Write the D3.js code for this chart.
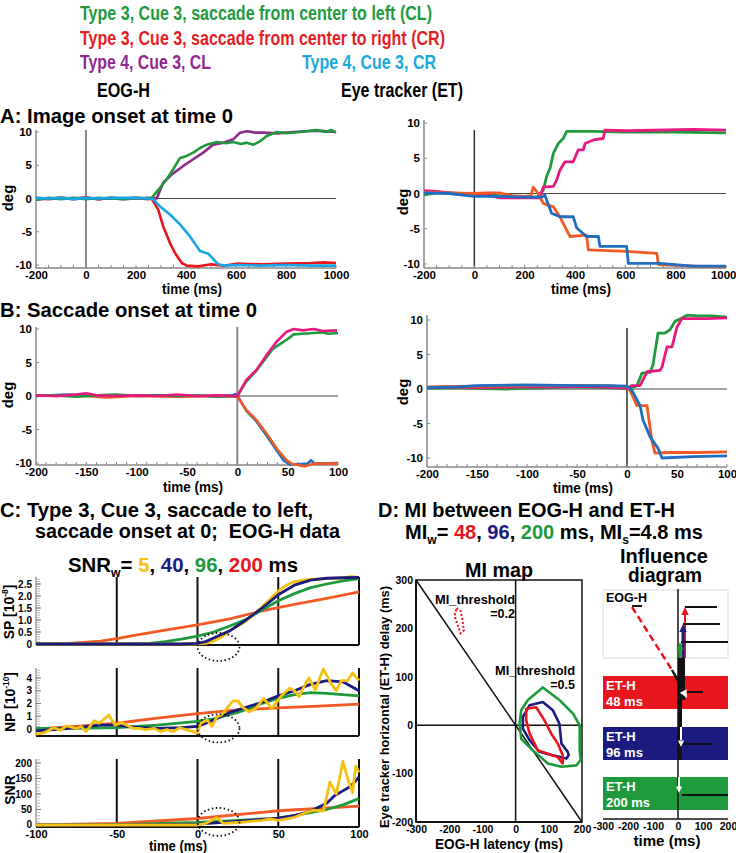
<!DOCTYPE html>
<html><head><meta charset="utf-8">
<script src="https://cdn.jsdelivr.net/npm/d3@7/dist/d3.min.js"></script>
<style>
body{margin:0;background:#fff;}
svg text{font-family:"Liberation Sans",Arial,Helvetica,sans-serif;font-weight:bold;white-space:pre;}
</style></head><body>
<svg id="chart" width="736" height="853"></svg>
<script>
// ================= DATA =================
const timeTicksA = [-200,0,200,400,600,800,1000];
const timeTicksB = [-200,-150,-100,-50,0,50,100];
const degTicks = [-10,-5,0,5,10];
const timeTicksC = [-100,-50,0,50,100];
const spTicks = [0,0.5,1.0,1.5,2.0,2.5];
const npTicks = [0,1,2,3,4];
const snrTicks = [0,50,100,150,200];
const miTicksX = [-300,-200,-100,0,100,200];
const miTicksY = [-200,-100,0,100,200,300];
const infTicks = [-300,-200,-100,0,100,200];

// A: EOG-H, image onset at 0  [time ms, deg]
const eogA_CL3 = [[-200,-0.2],[-150,0.1],[-100,-0.1],[-50,0.1],[0,-0.1],[50,0.1],[100,0.0],[150,-0.1],[200,0.1],[250,0],[263,0.1],[296,1.6],[323,2.9],[349,4.4],[376,6.1],[403,6.4],[429,6.9],[456,7.6],[483,8.1],[523,8.5],[560,8.3],[589,8.5],[620,8.2],[643,8.4],[670,8.1],[696,8.6],[723,9.4],[763,10.0],[800,9.8],[856,10.0],[900,10.2],[923,10.3],[960,10.0],[980,10.3],[1000,9.9]];
const eogA_CL4 = [[-200,-0.2],[-150,0],[-100,0.1],[-50,-0.1],[0,0.1],[50,-0.1],[100,0.1],[150,-0.1],[200,0],[250,0.1],[283,0],[309,2.4],[343,3.6],[389,4.9],[429,5.9],[469,6.9],[509,8.1],[549,8.4],[589,8.9],[616,9.9],[643,10.1],[680,9.9],[709,9.9],[763,9.8],[830,10.0],[923,10.2],[1000,10.0]];
const eogA_CR3 = [[-200,0.1],[-150,-0.1],[-100,0.1],[-50,0],[0,0.2],[50,-0.1],[100,0.1],[150,0],[200,0.1],[250,-0.1],[263,0],[289,-1.7],[309,-4.2],[336,-6.7],[356,-8.2],[383,-9.7],[403,-10.1],[450,-10.2],[500,-9.9],[550,-10.1],[600,-9.8],[700,-9.9],[800,-9.8],[900,-9.7],[950,-9.6],[1000,-9.7]];
const eogA_CR4 = [[-200,0.1],[-150,0],[-100,0.1],[-50,-0.1],[0,0.1],[50,0],[100,0.1],[150,0.1],[200,0.1],[250,0],[269,-0.1],[296,-1.2],[336,-2.4],[376,-3.9],[416,-5.7],[456,-7.9],[489,-8.3],[509,-9.1],[529,-9.9],[560,-10.1],[600,-10.0],[700,-10.1],[800,-10.0],[900,-10.1],[1000,-10.1]];

// A: Eye tracker
const etA_CL3 = [[-200,-0.2],[-150,0.1],[-100,0.1],[-50,0],[0,-0.2],[50,-0.1],[100,-0.3],[150,-0.4],[200,-0.5],[250,-0.5],[274,0.5],[287,2.4],[301,3.6],[314,5.7],[334,7.1],[353,7.8],[367,8.8],[473,8.8],[600,8.7],[800,8.7],[1000,8.6]];
const etA_CL4 = [[-200,0.4],[-150,0.3],[-100,0.1],[-50,-0.1],[0,-0.2],[50,-0.2],[100,-0.6],[150,-0.6],[200,-0.6],[260,-0.6],[274,0.9],[314,1.0],[327,1.9],[340,3.3],[360,4.5],[393,4.5],[413,6.2],[433,6.2],[440,7.1],[473,7.6],[512,7.8],[519,9.0],[605,8.9],[870,9.1],[1000,9.0]];
const etA_CR3 = [[-200,0.2],[-100,0.1],[0,0],[50,0.1],[100,0.1],[150,-0.3],[200,-0.4],[225,-0.3],[234,0.9],[254,0],[274,-1.4],[314,-1.9],[340,-3.3],[380,-6.1],[446,-5.9],[453,-8.0],[605,-8.2],[725,-8.5],[732,-10.1],[870,-10.3],[1000,-10.4]];
const etA_CR4 = [[-200,0.1],[-100,0],[0,-0.4],[100,-0.4],[200,-0.5],[270,-0.5],[280,-0.2],[307,-2.8],[340,-3.3],[393,-3.3],[407,-4.9],[446,-6.1],[493,-6.1],[499,-7.5],[605,-7.5],[612,-9.9],[738,-9.9],[870,-10.3],[1000,-10.3]];

// B: EOG-H, saccade onset at 0
const eogB_CL3 = [[-200,0.1],[-180,0.1],[-160,-0.1],[-140,0.1],[-120,0.2],[-100,0],[-80,0.1],[-60,0],[-40,0.1],[-20,-0.1],[0,0],[9,2.2],[19,3.8],[29,5.8],[35,7.0],[39,7.4],[45,8.0],[49,8.4],[56,9.2],[65,9.3],[76,9.4],[85,9.5],[90,9.3],[100,9.4]];
const eogB_CL4 = [[-200,0.1],[-180,0],[-160,0.2],[-150,0.4],[-140,0.1],[-120,0],[-100,0.1],[-80,0],[-60,0.2],[-40,0],[-20,0.1],[0,0],[9,2.4],[19,3.9],[29,6.1],[39,8.1],[49,9.6],[56,10.0],[65,9.8],[76,10.0],[85,9.7],[99,9.8]];
const eogB_CR3 = [[-200,0.1],[-180,0],[-160,0.1],[-140,-0.1],[-130,-0.2],[-100,0],[-60,-0.1],[-20,0],[0,-0.1],[9,-2.1],[19,-3.6],[29,-5.6],[39,-7.8],[49,-9.6],[54,-10.1],[60,-10.3],[67,-10.5],[76,-10.1],[85,-10.1],[100,-10.1]];
const eogB_CR4 = [[-200,0],[-170,0.2],[-150,0.1],[-120,0.1],[-90,0.1],[-60,0],[-30,0],[-5,0.1],[-2,0.3],[0,0.1],[9,-2.2],[19,-3.8],[29,-5.9],[39,-8.1],[46,-9.6],[52,-10.2],[60,-10.2],[70,-10.1],[73,-9.6],[77,-10.1],[100,-10.0]];

// B: Eye tracker
const etB_CL3 = [[-200,0.1],[-170,0.2],[-150,0.1],[-120,0.0],[-100,0.1],[-75,0.2],[-50,0.3],[-25,0.2],[0,0.1],[7,0.3],[10,0.5],[15,2.3],[23,2.4],[26,3.5],[31,8.1],[38,8.1],[43,8.6],[48,9.8],[55,10.3],[60,10.7],[70,10.6],[85,10.6],[100,10.4]];
const etB_CL4 = [[-200,0.2],[-180,0.3],[-150,0.2],[-100,0.3],[-75,0.3],[-50,0.4],[-25,0.3],[0,0.1],[5,0.5],[13,0.5],[20,2.5],[33,2.7],[35,3.2],[40,6.1],[45,6.1],[50,9.0],[55,10.2],[66,10.2],[80,10.2],[100,10.3]];
const etB_CR3 = [[-200,0.3],[-150,0.4],[-100,0.5],[-50,0.5],[-20,0.5],[0,0.3],[3,-0.2],[10,-2.4],[20,-2.4],[25,-7.6],[28,-9.3],[40,-9.2],[70,-9.2],[100,-9.1]];
const etB_CR4 = [[-200,0.2],[-170,0.3],[-150,0.5],[-100,0.6],[-50,0.5],[-20,0.5],[0,0.4],[5,-0.2],[13,-2.4],[16,-4.5],[23,-6.9],[31,-8.6],[35,-10.0],[66,-9.8],[100,-9.7]];

// C: SP [1e-8], NP [1e-10], SNR for windows 5, 40, 96, 200 ms
const sp_w5   = [[-100,0],[0,0],[5,0.03],[10,0.12],[15,0.3],[20,0.55],[30,0.95],[40,1.55],[50,2.2],[55,2.45],[60,2.6],[70,2.7],[80,2.72],[90,2.75],[95,2.82],[100,2.78]];
const sp_w40  = [[-100,0],[-10,0],[0,0.03],[5,0.1],[10,0.25],[20,0.55],[30,1.0],[40,1.5],[50,2.05],[60,2.45],[70,2.66],[80,2.74],[90,2.76],[100,2.77]];
const sp_w96  = [[-100,0],[-50,0],[-30,0.03],[-20,0.1],[-10,0.2],[0,0.33],[10,0.5],[20,0.75],[30,1.02],[40,1.42],[50,1.8],[60,2.1],[70,2.35],[80,2.5],[90,2.63],[100,2.72]];
const sp_w200 = [[-100,0],[-80,0.02],[-60,0.12],[-50,0.22],[-40,0.35],[-20,0.58],[0,0.8],[20,1.05],[40,1.38],[60,1.65],[80,1.9],[100,2.17]];

const np_w5   = [[-100,-0.4],[-95,-0.3],[-89,0.1],[-85,-0.1],[-81,0.25],[-75,0.05],[-72,0.2],[-69,-0.2],[-64,0.65],[-61,0.45],[-57,0.85],[-55,1.1],[-51,0.3],[-47,0.5],[-43,0.25],[-40,0.05],[-36,0.05],[-32,-0.05],[-27,0.05],[-23,-0.2],[-19,-0.05],[-15,-0.2],[-11,0.1],[-7,-0.05],[0,-0.3],[2,0.45],[6,0.7],[9,0.2],[12,0.95],[15,1.1],[18,1.6],[22,2.2],[25,2.2],[28,1.7],[32,1.35],[36,1.6],[41,2.4],[46,1.6],[52,2.6],[57,3.2],[60,3.0],[63,2.55],[66,3.35],[69,4.0],[73,3.05],[76,4.1],[78,4.7],[83,3.5],[86,3.0],[89,3.8],[93,3.8],[96,4.4],[100,3.8]];
const np_w40  = [[-100,-0.15],[-85,0.0],[-75,0.1],[-60,0.3],[-50,0.3],[-40,0.15],[-25,0.05],[-10,0.1],[0,0.2],[10,0.7],[20,1.3],[30,1.7],[40,2.1],[50,2.6],[60,3.0],[70,3.5],[80,3.8],[90,3.7],[100,3.0]];
const np_w96  = [[-100,0.05],[-75,0.05],[-50,0.1],[-25,0.3],[0,0.6],[10,0.8],[25,1.3],[40,2.0],[50,2.4],[60,2.7],[70,2.85],[80,2.8],[90,2.7],[100,2.6]];
const np_w200 = [[-100,0.0],[-75,0.2],[-50,0.45],[-25,0.85],[0,1.2],[25,1.5],[50,1.65],[75,1.8],[100,1.95]];

const snr_w5   = [[-100,0],[-50,0],[0,0],[5,5],[12,24],[16,5],[25,8],[40,15],[45,20],[50,15],[55,20],[60,25],[67,40],[72,48],[78,45],[82,138],[86,100],[90,205],[93,150],[96,105],[98,190],[100,170]];
const snr_w40  = [[-100,0],[-50,0],[0,3],[25,12],[50,22],[60,30],[70,45],[80,70],[85,95],[90,110],[95,125],[100,155]];
const snr_w96  = [[-100,0],[-50,1],[0,8],[25,15],[50,22],[70,40],[80,50],[90,65],[100,85]];
const snr_w200 = [[-100,0],[-50,5],[0,21],[50,46],[100,61]];
const circleSP = [13,-0.12], circleNP = [13,0.05], circleSNR = [13,10];

// D: MI map contours [EOG-H latency ms, ET-H delay ms]
const mi_w200 = [[17,31],[37,52],[82,78],[132,52],[173,24],[193,0],[193,-52],[196,-72],[183,-83],[138,-86],[97,-79],[52,-52],[17,-28],[12,3]];
const mi_w96  = [[22,17],[42,41],[82,48],[112,31],[132,3],[138,-38],[157,-55],[160,-62],[153,-69],[112,-62],[72,-55],[42,-31],[22,-7]];
const mi_w48  = [[32,34],[62,37],[87,10],[107,-17],[127,-38],[142,-62],[142,-79],[127,-66],[97,-59],[67,-52],[42,-17],[32,10]];
const mi_w48_low = [[-178,242],[-166,236],[-160,218],[-156,196],[-166,190],[-174,206],[-184,226]];

// D: influence diagram [ms]
const infWindows = ["48 ms","96 ms","200 ms"];
const infArrowT  = [28, 20, 8];
const infTopStart = [28, 20, 12], infTopEnd = [156, 168, 200];
const infBandStart = [36, 16, 16], infBandEnd = [100, 136, 200];
const infEogStart = -184, infEogJoin = -24, infEogEnd = 36;

// ================= DRAWING =================
const COL = {green:"#1e9a3c", red:"#e8151d", purple:"#8e2a8c", cyan:"#19a6e6", magenta:"#e8197e", orange:"#f15a24", blue:"#1f6ec0", yellow:"#f5c10e", navy:"#1b1b80"};
const svg = d3.select("#chart");

function label(x,y,str,o={}){
  const size=o.size||14;
  const t=svg.append("text").attr("x",x).attr("y",y).attr("font-size",size).attr("fill",o.fill||"#000").attr("text-anchor",o.anchor||"start");
  if(o.rot) t.attr("transform",`rotate(-90,${x},${y})`);
  if(Array.isArray(str)){
    let shift=0;
    str.forEach(s=>{
      const ts=t.append("tspan").text(s.t).attr("fill",s.fill||o.fill||"#000");
      let target = s.sub? size*0.25 : s.sup ? -size*0.4 : 0;
      if(target!==shift){ ts.attr("dy",target-shift); shift=target; }
      if(s.sub||s.sup) ts.attr("font-size",size*0.6);
    });
  } else t.text(str);
  if(o.len) t.attr("textLength",o.len).attr("lengthAdjust","spacingAndGlyphs");
  return t;
}
function ln(g,x1,y1,x2,y2,c,w,dash){
  const l=g.append("line").attr("x1",x1).attr("y1",y1).attr("x2",x2).attr("y2",y2).attr("stroke",c).attr("stroke-width",w);
  if(dash) l.attr("stroke-dasharray",dash);
  return l;
}

// titles
label(80,20,"Type 3, Cue 3, saccade from center to left (CL)",{size:19.5,fill:"#1f9a3f",len:352});
label(80,45,"Type 3, Cue 3, saccade from center to right (CR)",{size:19.5,fill:"#e41e26",len:365});
label(80,69,"Type 4, Cue 3, CL",{size:19.5,fill:"#92278f",len:131});
label(302,69,"Type 4, Cue 3, CR",{size:19.5,fill:"#1ba8e0",len:134});
label(97,97,"EOG-H",{size:19.5,len:53});
label(341,97,"Eye tracker (ET)",{size:19.5,len:122});
label(0,123,"A: Image onset at time 0",{size:20,len:233});
label(0,317,"B: Saccade onset at time 0",{size:20,len:257});

// time series panels
function tsPanel(p){
  const x=d3.scaleLinear().domain(p.xd).range(p.xr);
  const y=d3.scaleLinear().domain([-10,10]).range(p.yr);
  const g=svg.append("g");
  ln(g,p.xr[0],y(0),p.xr[1],y(0),"#444",1.2);
  ln(g,x(0),p.vTop,x(0),p.axBottom,p.vColor,p.vW);
  ln(g,p.xr[0],p.axTop,p.xr[0],p.axBottom,"#888",1.5);
  ln(g,p.xr[0],p.axBottom,p.xr[1],p.axBottom,"#888",1.5);
  d3.range(p.xd[0],p.xd[1]+0.1,p.minor).forEach(t=>ln(g,x(t),p.axBottom,x(t),p.axBottom-3,"#888",1));
  degTicks.forEach(v=>ln(g,p.xr[0],y(v),p.xr[0]+3,y(v),"#888",1));
  const xa=g.append("g").attr("transform",`translate(0,${p.axBottom})`)
    .call(d3.axisBottom(x).tickValues(p.xt).tickSize(0).tickPadding(3).tickFormat(d=>String(d)));
  xa.select(".domain").remove(); xa.attr("font-size",11.5);
  if(p.lastEnd) xa.selectAll(".tick:last-of-type text").attr("text-anchor","end").attr("x",10);
  const ya=g.append("g").attr("transform",`translate(${p.xr[0]},0)`)
    .call(d3.axisLeft(y).tickValues(degTicks).tickSize(0).tickPadding(4).tickFormat(d=>String(d)));
  ya.select(".domain").remove(); ya.attr("font-size",11.5);
  const line=d3.line().x(d=>x(d[0])).y(d=>y(d[1]));
  p.series.forEach(s=>g.append("path").attr("d",line(s.d)).attr("fill","none").attr("stroke",s.c).attr("stroke-width",p.lw||2.6).attr("stroke-linejoin","round"));
  label(p.tx,p.ty,"time (ms)",{size:14,anchor:"middle",len:60});
  label(p.dx,p.dy,"deg",{size:15,anchor:"middle",rot:true});
}
tsPanel({xd:[-200,1000],xr:[36,336],yr:[265,132],axTop:130,axBottom:268,vTop:130,vColor:"#888",vW:2,minor:50,xt:timeTicksA,
  series:[{d:eogA_CR3,c:COL.red},{d:eogA_CL4,c:COL.purple},{d:eogA_CL3,c:COL.green},{d:eogA_CR4,c:COL.cyan}],tx:192,ty:294,dx:13,dy:198});
tsPanel({xd:[-200,1000],xr:[424,726],yr:[264,123],axTop:120,axBottom:268,vTop:130,vColor:"#333",vW:1.5,minor:50,xt:timeTicksA,lw:2.8,lastEnd:true,
  series:[{d:etA_CL3,c:COL.green},{d:etA_CL4,c:COL.magenta},{d:etA_CR3,c:COL.orange},{d:etA_CR4,c:COL.blue}],tx:581,ty:294,dx:408,dy:202});
tsPanel({xd:[-200,100],xr:[36,338],yr:[463,329],axTop:327,axBottom:465,vTop:327,vColor:"#888",vW:2,minor:10,xt:timeTicksB,
  series:[{d:eogB_CR4,c:COL.blue},{d:eogB_CR3,c:COL.orange},{d:eogB_CL3,c:COL.green},{d:eogB_CL4,c:COL.magenta}],tx:193,ty:492,dx:13,dy:395});
tsPanel({xd:[-200,100],xr:[427,727],yr:[458,320],axTop:315,axBottom:467,vTop:328,vColor:"#333",vW:1.5,minor:10,xt:timeTicksB,lw:2.8,
  series:[{d:etB_CL3,c:COL.green},{d:etB_CL4,c:COL.magenta},{d:etB_CR3,c:COL.orange},{d:etB_CR4,c:COL.blue}],tx:583,ty:493,dx:408,dy:392});

// ---- Panel C ----
label(0,517,"C: Type 3, Cue 3, saccade to left,",{size:20,len:313});
label(35,538,"saccade onset at 0;  EOG-H data",{size:20,len:305});
label(68,572,[{t:"SNR"},{t:"w",sub:true},{t:"= "},{t:"5",fill:COL.yellow},{t:", "},{t:"40",fill:COL.navy},{t:", "},{t:"96",fill:COL.green},{t:", "},{t:"200",fill:COL.red},{t:" ms"}],{size:20,len:230});
const xc=d3.scaleLinear().domain([-100,100]).range([36,359]);
function cPanel(p){
  const y=d3.scaleLinear().domain(p.yd).range(p.yr);
  const g=svg.append("g");
  ln(g,36,p.top,36,p.bottom,"#999",1.5);
  d3.range(p.minorFrom,y.invert(p.top)+1e-9,p.minor).forEach(v=>ln(g,36,y(v),40,y(v),"#bbb",1));
  p.ticks.forEach(v=>ln(g,36,y(v),41,y(v),"#777",1));
  timeTicksC.slice(1).forEach(t=>ln(g,xc(t),p.top,xc(t),p.bottom,"#111",2));
  ln(g,36,p.bottom,359,p.bottom,"#111",2);
  const ya=g.append("g").attr("transform","translate(34,0)")
    .call(d3.axisLeft(y).tickValues(p.ticks).tickSize(0).tickPadding(2).tickFormat(p.fmt));
  ya.select(".domain").remove(); ya.attr("font-size",10);
  if(p.xaxis) ya.selectAll(".tick:first-of-type text").attr("dy","0.2em");
  const line=d3.line().x(d=>xc(d[0])).y(d=>y(d[1]));
  p.series.forEach(s=>g.append("path").attr("d",line(s.d)).attr("fill","none").attr("stroke",s.c).attr("stroke-width",2.8).attr("stroke-linejoin","round"));
  g.append("ellipse").attr("cx",xc(p.circ[0])).attr("cy",y(p.circ[1])).attr("rx",21).attr("ry",14)
    .attr("fill","none").attr("stroke","#111").attr("stroke-width",1.8).attr("stroke-dasharray","1.5,2.5");
  if(p.xaxis){
    const xa=g.append("g").attr("transform",`translate(0,${p.bottom})`)
      .call(d3.axisBottom(xc).tickValues(timeTicksC).tickSize(0).tickPadding(3).tickFormat(d=>String(d)));
    xa.select(".domain").remove(); xa.attr("font-size",11);
  }
  label(p.lx,p.ly,p.lab,{size:14,anchor:"middle",rot:true});
}
cPanel({yd:[0,2.5],yr:[644,584],top:577,bottom:645,minor:0.1,minorFrom:0,ticks:spTicks,fmt:d=>d===0?"0":d.toFixed(1),
  series:[{d:sp_w200,c:COL.orange},{d:sp_w96,c:COL.green},{d:sp_w5,c:COL.yellow},{d:sp_w40,c:COL.navy}],circ:circleSP,
  lx:14,ly:612,lab:[{t:"SP [10"},{t:"-8",sup:true},{t:"]"}]});
cPanel({yd:[0,4],yr:[729,678],top:668,bottom:736,minor:0.2,minorFrom:-0.4,ticks:npTicks,fmt:d=>String(d),
  series:[{d:np_w200,c:COL.orange},{d:np_w96,c:COL.green},{d:np_w40,c:COL.navy},{d:np_w5,c:COL.yellow}],circ:circleNP,
  lx:15,ly:702,lab:[{t:"NP [10"},{t:"-10",sup:true},{t:"]"}]});
cPanel({yd:[0,200],yr:[825,763],top:759,bottom:827,minor:10,minorFrom:0,ticks:snrTicks,fmt:d=>String(d),
  series:[{d:snr_w200,c:COL.orange},{d:snr_w96,c:COL.green},{d:snr_w40,c:COL.navy},{d:snr_w5,c:COL.yellow}],circ:circleSNR,
  lx:15,ly:790,lab:"SNR",xaxis:true});
label(178,851,"time (ms)",{size:14,anchor:"middle",len:58});

// ---- Panel D ----
label(378,517,"D: MI between EOG-H and ET-H",{size:20,len:297});
label(405,539,[{t:"MI"},{t:"w",sub:true},{t:"= "},{t:"48",fill:COL.red},{t:", "},{t:"96",fill:COL.navy},{t:", "},{t:"200",fill:COL.green},{t:" ms, MI"},{t:"s",sub:true},{t:"=4.8 ms"}],{size:20,len:298});
label(499,577,"MI map",{size:20,anchor:"middle",len:68});
label(664,563,"Influence",{size:20,anchor:"middle",len:88});
label(665,582,"diagram",{size:20,anchor:"middle",len:74});

const xm=d3.scaleLinear().domain([-300,200]).range([416,582]);
const ym=d3.scaleLinear().domain([-200,300]).range([822,580]);
{
  const g=svg.append("g");
  g.append("rect").attr("x",xm(-300)).attr("y",ym(300)).attr("width",xm(200)-xm(-300)).attr("height",ym(-200)-ym(300)).attr("fill","none").attr("stroke","#111").attr("stroke-width",1.5);
  ln(g,xm(-300),ym(300),xm(-300),ym(-200),"#111",2);
  ln(g,xm(-300),ym(-200),xm(200),ym(-200),"#111",2);
  ln(g,xm(0),ym(300),xm(0),ym(-200),"#111",1.5);
  ln(g,xm(-300),ym(0),xm(200),ym(0),"#111",1.5);
  ln(g,xm(-300),ym(300),xm(200),ym(-200),"#111",1.5);
  const ya=g.append("g").attr("transform",`translate(${xm(-300)-1},0)`)
    .call(d3.axisLeft(ym).tickValues(miTicksY).tickSize(0).tickPadding(2).tickFormat(d=>String(d)));
  ya.select(".domain").remove(); ya.attr("font-size",10.5);
  const xa=g.append("g").attr("transform",`translate(0,${ym(-200)+1})`)
    .call(d3.axisBottom(xm).tickValues(miTicksX).tickSize(0).tickPadding(3).tickFormat(d=>String(d)));
  xa.select(".domain").remove(); xa.attr("font-size",10.5);
  const cl=d3.line().x(d=>xm(d[0])).y(d=>ym(d[1])).curve(d3.curveLinearClosed);
  [[mi_w200,COL.green],[mi_w96,COL.navy],[mi_w48,COL.red]].forEach(([d,c])=>
    g.append("path").attr("d",cl(d)).attr("fill","none").attr("stroke",c).attr("stroke-width",2.6).attr("stroke-linejoin","round"));
  g.append("path").attr("d",cl(mi_w48_low)).attr("fill","none").attr("stroke",COL.red).attr("stroke-width",2).attr("stroke-dasharray","2,2");
  label(435,604,"MI_threshold",{size:12.5,len:80});
  label(515,618,"=0.2",{size:12.5,anchor:"end"});
  label(495,675,"MI_threshold",{size:12.5,len:80});
  label(575,689,"=0.5",{size:12.5,anchor:"end"});
  label(389,707,"Eye tracker horizontal (ET-H) delay (ms)",{size:13,anchor:"middle",rot:true,len:242});
  label(499,849,"EOG-H latency (ms)",{size:15,anchor:"middle",len:128});
}

// influence diagram
const xi=d3.scaleLinear().domain([-300,200]).range([603,728]);
{
  const g=svg.append("g");
  const bandCol=[COL.red,COL.navy,COL.green];
  const bandTop=[676,727,777], bandH=33;
  g.append("rect").attr("x",xi(-300)).attr("y",590).attr("width",xi(200)-xi(-300)).attr("height",68).attr("fill","#fff").attr("stroke","#ddd").attr("stroke-width",1);
  infWindows.forEach((w,i)=>{
    g.append("rect").attr("x",xi(-300)).attr("y",bandTop[i]).attr("width",xi(200)-xi(-300)).attr("height",bandH).attr("fill",bandCol[i]);
  });
  ln(g,xi(0),589,xi(0),819,"#111",1.5);
  ln(g,xi(14),658,xi(14),700,"#111",7);
  ln(g,xi(8),700,xi(8),760,"#111",4);
  function arrowHead(x,y,ang,c,s){
    const p=[[0,0],[-s*1.6,-s*0.75],[-s*1.6,s*0.75]].map(([a,b])=>[x+a*Math.cos(ang)-b*Math.sin(ang), y+a*Math.sin(ang)+b*Math.cos(ang)]);
    g.append("polygon").attr("points",p.map(q=>q.join(",")).join(" ")).attr("fill",c);
  }
  const topY=[607,624,642];
  infWindows.forEach((w,i)=>{
    ln(g,xi(infArrowT[i]),658,xi(infArrowT[i]),topY[i]+5,bandCol[i],i===0?2:3);
    arrowHead(xi(infArrowT[i]),topY[i],-Math.PI/2,bandCol[i],5);
    ln(g,xi(infTopStart[i]),topY[i],xi(infTopEnd[i]),topY[i],"#111",2);
  });
  const bandLineY=[692,744,795];
  infWindows.forEach((w,i)=>ln(g,xi(infBandStart[i]),bandLineY[i],xi(infBandEnd[i]),bandLineY[i],"#111",2));
  ln(g,xi(12),727,xi(12),740,"#fff",2); arrowHead(xi(12),747,Math.PI/2,"#fff",4);
  ln(g,xi(4),777,xi(4),787,"#fff",2); arrowHead(xi(4),793,Math.PI/2,"#fff",4);
  ln(g,xi(infEogStart),606,xi(infEogStart+40),606,"#111",2);
  ln(g,xi(infEogStart),607,xi(infEogJoin),670,COL.red,2.5,"7,4");
  ln(g,xi(infEogJoin),670,xi(infEogEnd-6),694,"#111",2.5);
  arrowHead(xi(infEogEnd),698,Math.atan2(28,xi(infEogEnd)-xi(infEogJoin)),"#fff",5);
  label(606,602,"EOG-H",{size:12.5});
  const bandText=[[690,706],[741,757],[791,807]];
  infWindows.forEach((w,i)=>{ label(606,bandText[i][0],"ET-H",{size:13,fill:"#fff"}); label(606,bandText[i][1],w,{size:13,fill:"#fff"}); });
  ln(g,xi(-300),819,xi(200),819,"#111",1.5);
  const xa=g.append("g").attr("transform","translate(0,820)")
    .call(d3.axisBottom(xi).tickValues(infTicks).tickSize(0).tickPadding(3).tickFormat(d=>String(d)));
  xa.select(".domain").remove(); xa.attr("font-size",10.5);
  label(667,846,"time (ms)",{size:15,anchor:"middle",len:67});
}
</script></body></html>
